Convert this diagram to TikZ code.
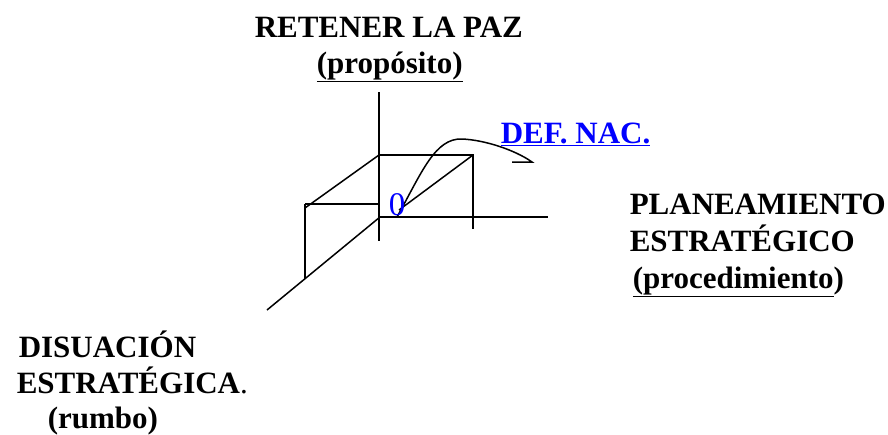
\documentclass[tikz,border=0pt]{standalone}
\usepackage{fontspec}
\setmainfont{Liberation Serif}
\usetikzlibrary{positioning}
\definecolor{linkblue}{RGB}{0,0,255}

\begin{document}
\begin{tikzpicture}[x=1pt, y=-1pt, line width=1.5pt,
    lbl/.style={font=\fontsize{31}{36}\selectfont\bfseries, inner sep=0pt, anchor=base west},
    zero/.style={font=\fontsize{33}{36}\selectfont, text=linkblue, inner sep=0pt, anchor=base west}]
			%\draw[step=10,gray,very thin] (0,0) grid (888,434);
			\useasboundingbox (0,0) rectangle (888,434);
			% axes
			\draw[-] (379,92) -- (379,241);
			\draw[-] (379,217) -- (548,217);
			\draw[-] (380,217) -- (267,310);
			% box
			\draw[-] (379,155) -- (473,155) -- (473,229);
			\draw[-] (473,155) -- (399,210);
			\draw[-] (379,155) -- (305,208);
			\draw[-] (305,204) -- (305,279);
			\draw[line width=2.6pt] (305,204) -- (379,204);
			% curve to DEF. NAC.
			\draw[-] (397,217) .. controls (422,172) and (435,138) .. (462,139)
			    .. controls (485,140) and (515,150) .. (532,162) -- (512,162);
			\node[zero] (cero) at (388,215) {0};
			\node[lbl] (retener) at (254,37) {RETENER LA PAZ};
			\node[lbl] (proposito) at (316,73) {\underline{(propósito)}};
			\node[lbl, text=linkblue] (defnac) at (500,143) {\underline{DEF. NAC.}};
			\node[lbl] (planea) at (629,214) {PLANEAMIENTO};
			\node[lbl] (estrat) at (629,251) {ESTRATÉGICO};
			\node[lbl] (proced) at (632,288) {\underline{(procedimiento})};
			\node[lbl] (disua) at (18,357) {DISUACIÓN};
			\node[lbl] (estratb) at (16,393) {ESTRATÉGICA\mdseries.};
			\node[lbl] (rumbo) at (47,428) {(rumbo)};
\end{tikzpicture}
\end{document}
